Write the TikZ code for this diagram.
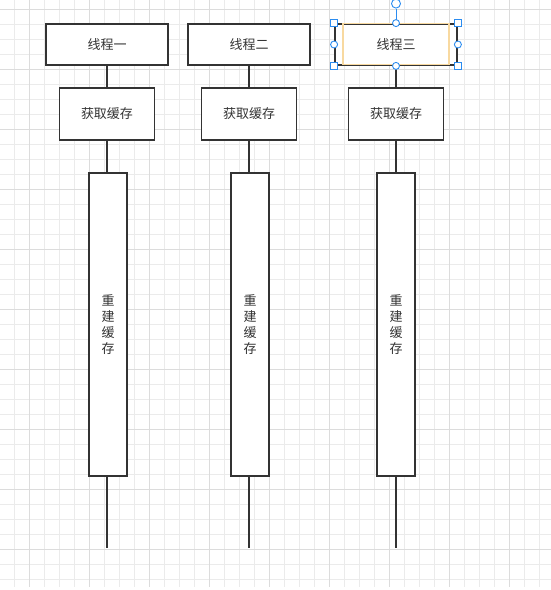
\documentclass[tikz,border=0pt]{standalone}
\usepackage{fontspec}
\setmainfont{Noto Sans CJK SC}
\usetikzlibrary{positioning}
\definecolor{inkgray}{HTML}{333333}
\definecolor{gridminor}{HTML}{EBEBEB}
\definecolor{gridmajor}{HTML}{DCDCDC}
\definecolor{handleblue}{HTML}{2B8CF0}
\definecolor{selorange}{HTML}{F8D9A0}

\begin{document}
\begin{tikzpicture}[x=1pt,y=-1pt,
    box/.style={draw=inkgray, line width=1.8pt, fill=white, text=inkgray,
      font=\fontsize{13}{16}\selectfont, inner sep=0pt},
    life/.style={draw=inkgray, line width=1.8pt},
    handle/.style={draw=handleblue, fill=white, line width=0.9pt}]

    \useasboundingbox[fill=white] (0,0) rectangle (551,590);

    % background grid
    \foreach \gx in {14,29,...,539}
      \draw[gridminor, line width=0.8pt] (\gx,0) -- (\gx,587);
    \foreach \gy in {9,24,...,579}
      \draw[gridminor, line width=0.8pt] (0,\gy) -- (551,\gy);
    \foreach \gx in {29,89,...,509}
      \draw[gridmajor, line width=0.8pt] (\gx,0) -- (\gx,587);
    \foreach \gy in {9,69,...,549}
      \draw[gridmajor, line width=0.8pt] (0,\gy) -- (551,\gy);

    \node[box, minimum width=122, minimum height=41] (T1) at (107,44.5) {线程一};
    \node[box, minimum width=122, minimum height=41] (T2) at (249,44.5) {线程二};
    \node[box, minimum width=122, minimum height=41] (T3) at (396,44.5) {线程三};

    \node[box, minimum width=95, minimum height=52] (G1) at (107,114) {获取缓存};
    \node[box, minimum width=95, minimum height=52] (G2) at (249,114) {获取缓存};
    \node[box, minimum width=95, minimum height=52] (G3) at (396,114) {获取缓存};

    \node[box, minimum width=38, minimum height=303, align=center] (R1) at (108,324.5) {重\\建\\缓\\存};
    \node[box, minimum width=38, minimum height=303, align=center] (R2) at (250,324.5) {重\\建\\缓\\存};
    \node[box, minimum width=38, minimum height=303, align=center] (R3) at (396,324.5) {重\\建\\缓\\存};

    \coordinate (E1) at (107,548);
    \coordinate (E2) at (249,548);
    \coordinate (E3) at (396,548);

    \draw[life] (T1) -- (G1);
    \draw[life] (G1) -- (G1 |- R1.north);
    \draw[life] (R1.south -| E1) -- (E1);
    \draw[life] (T2) -- (G2);
    \draw[life] (G2) -- (G2 |- R2.north);
    \draw[life] (R2.south -| E2) -- (E2);
    \draw[life] (T3) -- (G3);
    \draw[life] (G3) -- (R3);
    \draw[life] (R3) -- (E3);

    % selection of the third header
    \draw[selorange, line width=1.6pt] (343,23.5) rectangle (449,64.5);
    \draw[handleblue, line width=0.9pt] (T3.north) -- ++(0,-14);
    \draw[handle] ([yshift=19.5]T3.north) circle[radius=4.5];
    \foreach \c in {north west, north east, south west, south east}
      \draw[handle] ([xshift=-3.5,yshift=3.5]T3.\c) rectangle ++(7,7);
    \foreach \c in {north, south, west, east}
      \draw[handle] (T3.\c) circle[radius=3.5];
\end{tikzpicture}
\end{document}
